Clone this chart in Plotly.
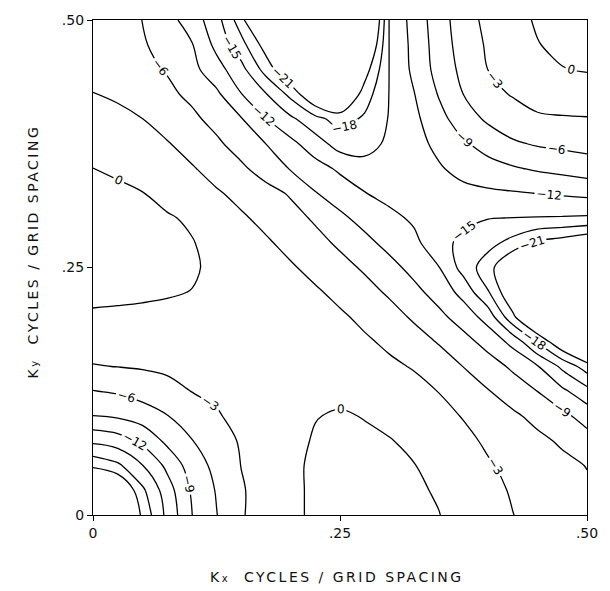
import plotly.graph_objects as go

# Axis coordinates (cycles / grid spacing)
kx = [0.0, 0.025, 0.05, 0.075, 0.1, 0.125, 0.15, 0.175, 0.2, 0.225, 0.25,
      0.275, 0.3, 0.325, 0.35, 0.375, 0.4, 0.425, 0.45, 0.475, 0.5]
ky = [0.0, 0.025, 0.05, 0.075, 0.1, 0.125, 0.15, 0.175, 0.2, 0.225, 0.25,
      0.275, 0.3, 0.325, 0.35, 0.375, 0.4, 0.425, 0.45, 0.475, 0.5]

# Response (dB), one row per Ky value (Kx increasing left to right)
r_000 = [-40, -30, -20.2, -14.2, -9.05, -6.1, -3.23, -1.77, -0.43, 0.34, 0.84, 1.2, 0.9, 0.56, 0.06, -0.92, -1.93, -2.96, -3.8, -4.5, -5.1]
r_025 = [-30, -25.5, -18.6, -13.4, -8.6, -5.8, -3.27, -1.77, -0.43, 0.34, 0.84, 1.2, 0.76, 0.35, -0.23, -1.24, -2.26, -3.24, -4.0, -4.8, -5.55]
r_050 = [-20.2, -18.6, -15.1, -11.3, -7.6, -5.16, -2.95, -1.7, -0.41, 0.34, 0.84, 0.8, 0.48, 0.07, -0.78, -1.78, -2.77, -3.63, -4.45, -5.26, -6.1]
r_075 = [-14.3, -13.4, -11.3, -8.3, -6.1, -4.35, -2.7, -1.7, -0.66, 0.2, 0.7, 0.38, 0.12, -0.53, -1.58, -2.4, -3.39, -4.36, -5.33, -6.43, -7.84]
r_100 = [-9.05, -8.6, -7.6, -6.1, -4.75, -3.2, -2.36, -1.55, -0.75, -0.08, 0.22, -0.09, -0.68, -1.43, -2.24, -3.14, -4.32, -5.5, -6.83, -8.26, -10.2]
r_125 = [-6.1, -5.65, -4.75, -3.85, -2.95, -2.6, -2.13, -1.53, -1.0, -0.57, -0.57, -1.04, -1.54, -2.14, -3.06, -4.46, -5.85, -7.4, -9.02, -11.35, -13.95]
r_150 = [-3.15, -2.95, -2.74, -2.51, -2.34, -2.13, -1.96, -1.56, -1.21, -1.2, -1.38, -1.88, -2.5, -3.2, -4.6, -6.05, -7.7, -9.5, -11.8, -15.65, -19.5]
r_175 = [-1.7, -1.63, -1.59, -1.56, -1.57, -1.56, -1.63, -1.6, -1.64, -1.8, -2.1, -2.62, -3.5, -4.8, -6.2, -8.0, -10.05, -12.9, -18.3, -24, -29]
r_200 = [-0.24, -0.32, -0.43, -0.57, -0.73, -1.06, -1.3, -1.75, -2.1, -2.33, -2.6, -3.6, -4.9, -6.4, -8.25, -10.3, -13.2, -20.3, -27, -31, -34]
r_225 = [0.42, 0.38, 0.32, 0.19, -0.05, -0.66, -1.3, -1.88, -2.38, -2.65, -3.7, -5.0, -6.4, -8.2, -10.15, -13.0, -17.8, -24, -29, -32, -34]
r_250 = [0.9, 0.88, 0.8, 0.6, 0.3, -0.55, -1.44, -2.18, -2.7, -3.8, -5.05, -6.4, -8.07, -9.9, -11.9, -16.15, -19.7, -25, -28, -30, -31]
r_275 = [1.2, 1.2, 1.0, 0.5, 0.15, -0.95, -1.96, -2.65, -3.8, -5.1, -6.5, -8.2, -9.9, -11.4, -13.6, -16.0, -17.0, -19.0, -21.5, -22.5, -24]
r_300 = [1.0, 0.85, 0.55, 0.28, -0.42, -1.7, -2.63, -3.75, -5.0, -6.4, -8.4, -10.0, -11.35, -12.4, -13.7, -13.9, -14.9, -15.05, -15.15, -15.25, -15.4]
r_325 = [0.55, 0.36, 0.07, -0.9, -1.84, -2.68, -3.8, -5.0, -6.3, -8.85, -10.4, -11.9, -12.8, -13.3, -13.2, -12.8, -12.5, -12.25, -11.95, -11.6, -11.25]
r_350 = [0.02, -0.3, -0.9, -1.73, -2.75, -4.1, -5.5, -7.25, -9.2, -10.85, -12.5, -14.0, -14.2, -13.8, -12.3, -11.05, -10.1, -9.3, -8.6, -8.1, -7.5]
r_375 = [-0.95, -1.45, -2.05, -2.8, -4.1, -5.5, -7.2, -9.02, -11.2, -13.65, -16.3, -16.0, -14.5, -13.0, -11.3, -9.4, -7.8, -6.4, -5.7, -5.3, -4.95]
r_400 = [-2.0, -2.3, -2.97, -4.2, -5.4, -6.9, -8.8, -11.85, -14.4, -17.0, -19.3, -17.5, -14.8, -12.7, -10.0, -7.4, -5.5, -4.3, -3.3, -3.2, -3.15]
r_425 = [-2.95, -3.4, -4.6, -5.4, -6.6, -8.4, -11.9, -14.8, -18.8, -24.6, -26, -19.5, -14.9, -12.1, -8.8, -5.97, -3.8, -2.8, -2.2, -1.8, -1.5]
r_450 = [-3.6, -4.4, -5.3, -6.2, -8.1, -10.8, -14.0, -19.2, -24.4, -28, -29, -22.5, -14.9, -11.3, -7.9, -5.2, -2.96, -2.0, -1.1, -0.1, 0.2]
r_475 = [-4.1, -4.9, -5.7, -7.1, -8.8, -12.8, -16.9, -22.4, -28, -32, -33, -26.7, -14.85, -11.1, -7.6, -4.7, -2.6, -1.4, -0.1, 0.6, 1.0]
r_500 = [-4.5, -5.2, -6.02, -7.9, -10.4, -13.8, -19.7, -30, -34, -36, -36, -30.3, -14.8, -10.8, -7.4, -4.3, -2.2, -0.9, 0.3, 0.9, 1.3]

z = [r_000, r_025, r_050, r_075, r_100, r_125, r_150, r_175, r_200, r_225,
     r_250, r_275, r_300, r_325, r_350, r_375, r_400, r_425, r_450, r_475, r_500]

# Contour levels and tick labels
level_start, level_end, level_step = -21, 0, 3
tick_vals = [0, 0.25, 0.5]
tick_text = ["0", ".25", ".50"]

fig = go.Figure(go.Contour(
    x=kx, y=ky, z=z,
    contours=dict(start=level_start, end=level_end, size=level_step,
                  coloring="none", showlabels=True,
                  labelfont=dict(size=12, color="black", family="DejaVu Sans")),
    line=dict(color="black", width=1.3, smoothing=1.0),
    showscale=False, hoverinfo="skip",
))

axis_common = dict(
    range=[0, 0.5], tickvals=tick_vals, ticktext=tick_text,
    ticks="outside", ticklen=5, tickcolor="black", tickwidth=1,
    showline=True, mirror=True, linecolor="black", linewidth=1.3,
    showgrid=False, zeroline=False,
    tickfont=dict(size=14, color="#111", family="DejaVu Sans"),
)

title_style = "letter-spacing:2.5px"
fig.update_layout(
    width=610, height=591,
    margin=dict(l=93, r=13, t=12, b=76),
    plot_bgcolor="white", paper_bgcolor="white",
    xaxis=axis_common, yaxis=axis_common,
    showlegend=False,
    annotations=[
        dict(text=f"<span style='{title_style}'>K<span style='font-size:10px'>x</span>  CYCLES / GRID SPACING</span>",
             xref="paper", yref="paper", x=0.494, y=-0.125,
             showarrow=False, xanchor="center", yanchor="middle",
             font=dict(size=14, color="#111", family="DejaVu Sans")),
        dict(text=f"<span style='{title_style}'>K<span style='font-size:10px'>y</span>  CYCLES / GRID SPACING</span>",
             xref="paper", yref="paper", x=-0.121, y=0.533, textangle=-90,
             showarrow=False, xanchor="center", yanchor="middle",
             font=dict(size=14, color="#111", family="DejaVu Sans")),
    ],
)

fig.write_html("out.html")
